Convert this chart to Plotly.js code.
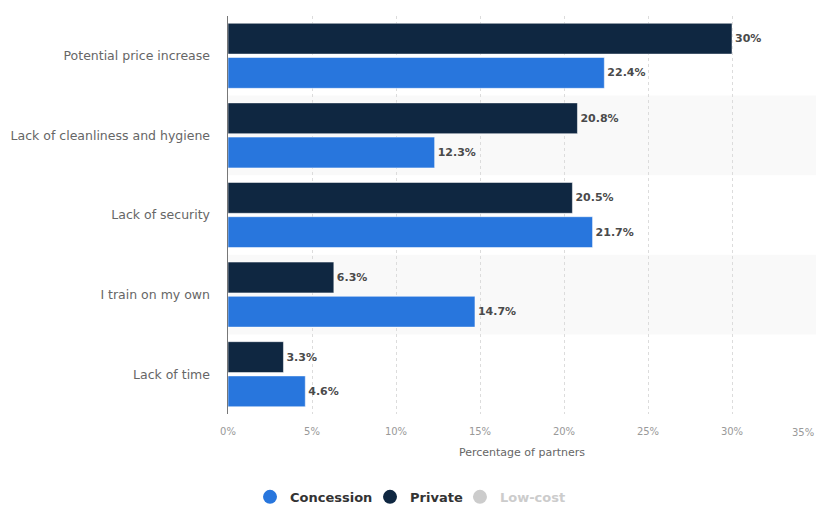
<!DOCTYPE html>
<html>
<head>
<meta charset="utf-8">
<script src="https://cdn.plot.ly/plotly-3.0.1.min.js"></script>
<style>html,body{margin:0;padding:0;background:#fff;}#chart{width:817px;height:505px;}</style>
</head>
<body>
<div id="chart"></div>
<script>
const categories = ["Potential price increase", "Lack of cleanliness and hygiene", "Lack of security", "I train on my own", "Lack of time"];
const privateValues = [30, 20.8, 20.5, 6.3, 3.3];
const concessionValues = [22.4, 12.3, 21.7, 14.7, 4.6];
const tickValues = [0, 5, 10, 15, 20, 25, 30, 35];
const tickLabels = ["0%", "5%", "10%", "15%", "20%", "25%", "30%", ""];
const seriesNames = ["Concession", "Private", "Low-cost"];
const seriesColors = ["#2876dd", "#0f2741", "#cccccc"];

const font = "'DejaVu Sans', 'Liberation Sans', Arial, sans-serif";

const barPrivate = {
  type: "bar", orientation: "h", name: "Private",
  y: categories, x: privateValues,
  marker: {color: seriesColors[1], line: {color: "#ffffff", width: 0.5}},
  text: privateValues.map(v => v + "%"), textposition: "outside",
  textfont: {family: font, size: 11, color: "#4a4a4a", weight: "bold"},
  cliponaxis: false, showlegend: false, hoverinfo: "x+y"
};
const barConcession = {
  type: "bar", orientation: "h", name: "Concession",
  y: categories, x: concessionValues,
  marker: {color: seriesColors[0], line: {color: "#ffffff", width: 0.5}},
  text: concessionValues.map(v => v + "%"), textposition: "outside",
  textfont: {family: font, size: 11, color: "#4a4a4a", weight: "bold"},
  cliponaxis: false, showlegend: false, hoverinfo: "x+y"
};
const legendIds = ["legend", "legend2", "legend3"];
const legendTraces = seriesNames.map((n, i) => ({
  type: "scatter", mode: "markers", x: [null], y: [null],
  name: i === 2 ? '<span style="color:#cccccc">' + n + '</span>' : n,
  marker: {symbol: "circle", size: 14, color: seriesColors[i]},
  legend: legendIds[i],
  hoverinfo: "skip"
}));

const shapes = categories.map((c, i) => i % 2 === 1 ? {
  type: "rect", layer: "below", xref: "paper", yref: "y",
  x0: 0, x1: 1, y0: i - 0.5, y1: i + 0.5,
  fillcolor: "#f9f9f9", line: {width: 0}
} : null).filter(s => s);

const legendX = [0.306, 0.4529, 0.563];
function legendBox(x) {
  return {
    orientation: "h", xref: "container", yref: "container",
    x: x, xanchor: "left", y: 0.016, yanchor: "middle",
    font: {family: font, size: 13, color: "#333333", weight: "bold"},
    itemclick: false, itemdoubleclick: false, bgcolor: "rgba(0,0,0,0)"
  };
}

const layout = {
  width: 817, height: 505,
  margin: {l: 228, r: 1, t: 16, b: 91},
  paper_bgcolor: "#ffffff", plot_bgcolor: "rgba(0,0,0,0)",
  barmode: "group", bargap: 0.14, bargroupgap: 0.1,
  font: {family: font, color: "#666666"},
  xaxis: {
    range: [0, 35], tickvals: tickValues, ticktext: tickLabels,
    showgrid: true, gridcolor: "#dcdcdc", griddash: "dot", gridwidth: 1,
    zeroline: false, showline: false, ticks: "",
    ticklabelstandoff: 10,
    tickfont: {family: font, size: 10, color: "#999999"},
    title: {text: "Percentage of partners", font: {family: font, size: 11, color: "#666666"}, standoff: 12},
    fixedrange: true
  },
  yaxis: {
    type: "category", autorange: "reversed",
    showline: true, linecolor: "#777777", linewidth: 1.5,
    showgrid: false, zeroline: false, ticks: "",
    ticklabelstandoff: 14,
    tickfont: {family: font, size: 12.5, color: "#666666"},
    fixedrange: true
  },
  legend: legendBox(legendX[0]),
  legend2: legendBox(legendX[1]),
  legend3: legendBox(legendX[2]),
  shapes: shapes,
  annotations: [{
    xref: "paper", yref: "paper", x: 1, y: 0, xanchor: "right", yanchor: "top",
    yshift: -11, text: "35%", showarrow: false,
    font: {family: font, size: 10, color: "#999999"}
  }],
  showlegend: true
};

Plotly.newPlot("chart", [barPrivate, barConcession].concat(legendTraces), layout, {displayModeBar: false, staticPlot: true});
</script>
</body>
</html>
